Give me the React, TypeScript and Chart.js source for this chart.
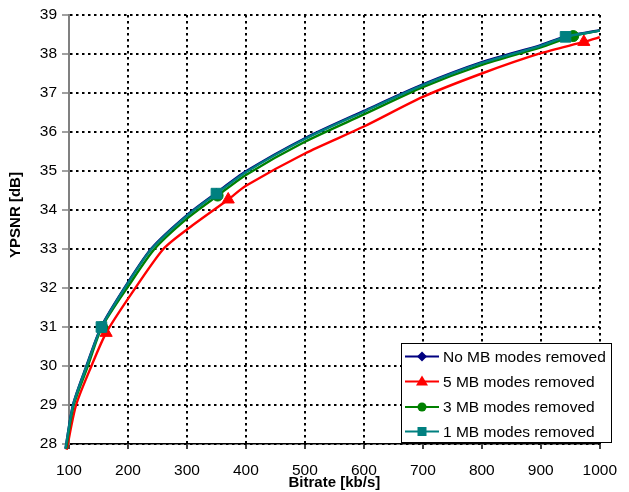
import React, { useEffect, useRef } from "react";
import { Chart, registerables } from "chart.js";

Chart.register(...registerables);

// Bitrate [kb/s] / YPSNR [dB] samples
const noneX = [94, 107, 130, 155, 201, 240, 300, 350, 400, 500, 600, 700, 800, 900, 942, 1000, 1013];
const noneY = [27.88, 29.02, 30.02, 31.02, 32.17, 33.02, 33.87, 34.44, 34.99, 35.84, 36.54, 37.22, 37.79, 38.23, 38.45, 38.61, 38.69];

const fiveX = [96, 112, 138, 163, 208, 260, 300, 370, 400, 500, 600, 700, 800, 900, 973, 1000, 1013];
const fiveY = [27.85, 29.0, 30.0, 30.85, 31.9, 33.0, 33.5, 34.27, 34.62, 35.45, 36.14, 36.9, 37.5, 38.02, 38.31, 38.43, 38.49];

const threeX = [95, 108, 132, 156, 203, 245, 300, 352, 400, 500, 600, 700, 800, 900, 955, 1000, 1013];
const threeY = [27.88, 29.0, 30.0, 31.0, 32.1, 33.0, 33.78, 34.37, 34.9, 35.75, 36.45, 37.15, 37.72, 38.17, 38.46, 38.6, 38.66];

const oneX = [94, 107, 130, 155, 201, 240, 300, 350, 400, 500, 600, 700, 800, 900, 942, 1000, 1013];
const oneY = [27.88, 29.0, 30.0, 31.0, 32.15, 33.0, 33.85, 34.42, 34.97, 35.82, 36.52, 37.2, 37.77, 38.21, 38.44, 38.6, 38.68];

const noneMarkers = [155, 350, 942];
const fiveMarkers = [163, 370, 973];
const threeMarkers = [156, 352, 955];
const oneMarkers = [155, 350, 942];

const seriesNames = [
  "No MB modes removed",
  "5 MB modes removed",
  "3 MB modes removed",
  "1 MB modes removed",
];
const seriesColors = ["#000080", "#FF0000", "#008000", "#008080"];
const seriesStyles = ["rectRot", "triangle", "circle", "rect"];

const xTicks = [100, 200, 300, 400, 500, 600, 700, 800, 900, 1000];
const yTicks = [28, 29, 30, 31, 32, 33, 34, 35, 36, 37, 38, 39];

const FONT = "'Liberation Sans', Arial, sans-serif";

function pts(xs: number[], ys: number[]) {
  return xs.map((x, i) => ({ x, y: ys[i] }));
}

function radii(xs: number[], marks: number[], r: number) {
  return xs.map((x) => (marks.includes(x) ? r : 0));
}

const overlay = {
  id: "overlay",
  afterDraw(chart: any) {
    const ctx = chart.ctx;
    const ca = chart.chartArea;
    ctx.save();
    // axis titles
    ctx.fillStyle = "#000";
    ctx.font = `bold 15px ${FONT}`;
    ctx.textAlign = "center";
    ctx.textBaseline = "middle";
    ctx.fillText("Bitrate [kb/s]", (ca.left + ca.right) / 2, 483);
    ctx.save();
    ctx.translate(16, 215);
    ctx.rotate(-Math.PI / 2);
    ctx.fillText("YPSNR [dB]", 0, 0);
    ctx.restore();

    // legend
    const lx = 401, ly = 343, lw = 211, lh = 100;
    ctx.fillStyle = "#fff";
    ctx.fillRect(lx, ly, lw, lh);
    ctx.strokeStyle = "#000";
    ctx.lineWidth = 1;
    ctx.strokeRect(lx + 0.5, ly + 0.5, lw - 1, lh - 1);
    const rows = [356.5, 381.5, 407, 431.5];
    ctx.font = `15.5px ${FONT}`;
    ctx.textAlign = "left";
    seriesNames.forEach((name, i) => {
      const y = rows[i];
      const c = seriesColors[i];
      ctx.strokeStyle = c;
      ctx.fillStyle = c;
      ctx.lineWidth = 2;
      ctx.beginPath();
      ctx.moveTo(405, y);
      ctx.lineTo(439, y);
      ctx.stroke();
      const cx = 422;
      ctx.beginPath();
      if (seriesStyles[i] === "rectRot") {
        ctx.moveTo(cx, y - 5);
        ctx.lineTo(cx + 5, y);
        ctx.lineTo(cx, y + 5);
        ctx.lineTo(cx - 5, y);
        ctx.closePath();
        ctx.fill();
      } else if (seriesStyles[i] === "triangle") {
        ctx.moveTo(cx, y - 6);
        ctx.lineTo(cx + 6, y + 4);
        ctx.lineTo(cx - 6, y + 4);
        ctx.closePath();
        ctx.fill();
      } else if (seriesStyles[i] === "circle") {
        ctx.arc(cx, y, 4.5, 0, Math.PI * 2);
        ctx.fill();
      } else {
        ctx.fillRect(cx - 4.5, y - 4.5, 9, 9);
      }
      ctx.fillStyle = "#000";
      ctx.fillText(name, 443, y + 1);
    });
    ctx.restore();
  },
};

export default function App() {
  const ref = useRef<HTMLCanvasElement>(null);
  useEffect(() => {
    if (!ref.current) return;
    const mk = (i: number, xs: number[], ys: number[], marks: number[], r: number, order: number) => ({
      label: seriesNames[i],
      data: pts(xs, ys),
      borderColor: seriesColors[i],
      backgroundColor: seriesColors[i],
      borderWidth: 2.4,
      pointStyle: seriesStyles[i],
      pointRadius: radii(xs, marks, r),
      pointBorderWidth: 1,
      tension: 0.25,
      clip: false as any,
      order,
    });
    const chart = new Chart(ref.current, {
      type: "line",
      data: {
        datasets: [
          mk(0, noneX, noneY, noneMarkers, 4.5, 2),
          mk(1, fiveX, fiveY, fiveMarkers, 7, 3),
          mk(2, threeX, threeY, threeMarkers, 5.5, 1),
          mk(3, oneX, oneY, oneMarkers, 7.5, 0),
        ],
      },
      options: {
        responsive: false,
        animation: false,
        events: [],
        layout: { padding: { left: 0, top: 15, right: 17, bottom: 0 } },
        plugins: { legend: { display: false }, tooltip: { enabled: false } },
        scales: {
          x: {
            type: "linear",
            min: 100,
            max: 1000,
            afterBuildTicks: (s: any) => {
              s.ticks = xTicks.map((v) => ({ value: v }));
            },
            afterFit: (s: any) => {
              s.height = 48;
            },
            ticks: {
              color: "#000",
              font: { family: FONT, size: 15.5 },
              padding: 12,
              maxRotation: 0,
              autoSkip: false,
              callback: (v: any) => String(v),
            },
            grid: {
              color: "#000",
              lineWidth: 2,
              tickBorderDash: [],
              tickColor: "#000",
              tickLength: 5,
              tickWidth: 1.5,
            },
            border: { display: true, color: "#000", width: 1.5, dash: [2.5, 3.5] },
          },
          y: {
            type: "linear",
            min: 28,
            max: 39,
            afterBuildTicks: (s: any) => {
              s.ticks = yTicks.map((v) => ({ value: v }));
            },
            afterFit: (s: any) => {
              s.width = 69;
            },
            ticks: {
              color: "#000",
              font: { family: FONT, size: 15.5 },
              padding: 5,
              autoSkip: false,
              callback: (v: any) => String(v),
            },
            grid: {
              color: "#000",
              lineWidth: 2,
              tickBorderDash: [],
              tickColor: "#808080",
              tickLength: 7,
              tickWidth: 1.5,
            },
            border: { display: true, color: "#808080", width: 2, dash: [2.5, 3.5] },
          },
        },
      },
      plugins: [overlay],
    });
    return () => chart.destroy();
  }, []);
  return (
    <div style={{ position: "fixed", left: 0, top: 0, width: 629, height: 492, background: "#fff" }}>
      <canvas ref={ref} width={629} height={492} style={{ display: "block" }} />
    </div>
  );
}
